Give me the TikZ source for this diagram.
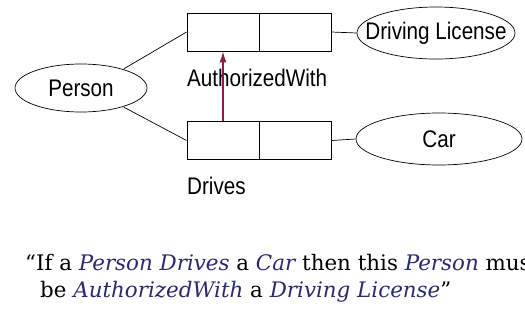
\documentclass[tikz,border=0pt]{standalone}
\usepackage{fontspec}
\setmainfont{Liberation Serif}
\newfontfamily\labfont[FakeStretch=0.86]{Liberation Sans}
\newfontfamily\capfont{DejaVu Serif}
\usetikzlibrary{shapes.geometric,arrows.meta}
\definecolor{arrowred}{HTML}{8E1A48}
\definecolor{capblue}{HTML}{2A2A6E}
\tikzset{
  ent/.style={draw, ellipse, line width=0.7pt, inner xsep=-40pt, inner ysep=-10pt, font=\labfont\fontsize{24}{26}\selectfont},
  half/.style={draw, rectangle, line width=0.9pt, minimum width=72pt, minimum height=38pt, inner sep=0pt},
  conn/.style={line width=0.7pt},
  lab/.style={font=\labfont\fontsize{24}{26}\selectfont, anchor=west, inner sep=0pt},
  captext/.style={font=\capfont\fontsize{21.4}{24}\selectfont, anchor=base west, inner sep=0pt}
}
\newcommand{\capit}[1]{{\color{capblue}\itshape #1}}
\begin{document}
\begin{tikzpicture}[x=1pt,y=-1pt]
\useasboundingbox (0,0) rectangle (525,327);
\clip (0,0) rectangle (525,327);
\fill[white] (0,0) rectangle (525,327);
% entities
\node[ent, minimum width=132pt, minimum height=48pt] (person) at (81,88) {Person};
\node[ent, minimum width=158pt, minimum height=52pt] (lic) at (436,33) {Driving License};
\node[ent, minimum width=166pt, minimum height=52pt] (car) at (439,139) {Car};
% relationship boxes
\node[half] (a1) at (223,32) {};
\node[half] (a2) at (295,32) {};
\node[half] (d1) at (223,140.5) {};
\node[half] (d2) at (295,140.5) {};
% labels
\node[lab] (alab) at (187,78) {AuthorizedWith};
\node[lab] (dlab) at (187,186) {Drives};
% connectors
\draw[conn] (person.north east) ++(-4,-2) coordinate (pne) -- (a1.west);
\draw[conn] (person.south east) ++(-4,2) coordinate (pse) -- (d1.west);
\draw[conn] (a2.east) -- (lic.west);
\draw[conn] (d2.east) -- (car.west);
\draw[arrowred, line width=1.1pt, -{Latex[length=11pt,width=7pt]}] (d1.north) -- (a1.south);
% caption
\node[captext] (c1) at (25,270) {“If a \capit{Person Drives} a \capit{Car} then this \capit{Person} must};
\node[captext] (c2) at (40,297) {be \capit{AuthorizedWith} a \capit{Driving License}”};
\end{tikzpicture}
\end{document}
